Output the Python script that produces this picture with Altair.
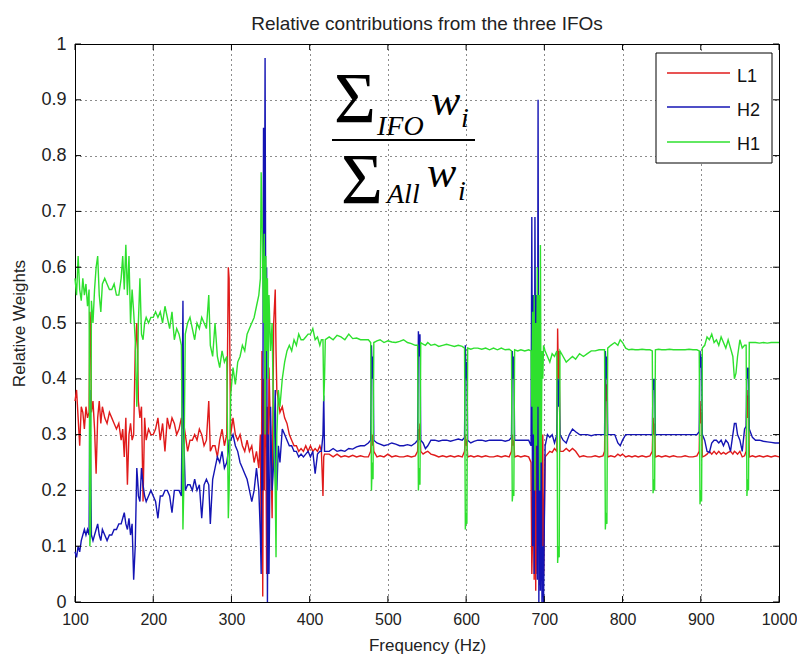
import altair as alt
import pandas as pd

TITLE = "Relative contributions from the three IFOs"
SERIES = ["L1", "H2", "H1"]
COLORS = ["#e01b1b", "#1414b4", "#2ee02e"]
X_TICKS = [100, 200, 300, 400, 500, 600, 700, 800, 900, 1000]
Y_TICKS = [0, 0.1, 0.2, 0.3, 0.4, 0.5, 0.6, 0.7, 0.8, 0.9, 1]

FREQ = [
    100, 102, 104, 106, 108, 110, 112, 114, 116, 118,
    119, 120, 121, 123, 125, 127, 129, 131, 133, 135,
    138, 141, 144, 147, 150, 153, 156, 159, 161, 163,
    165, 167, 169, 171, 173, 175, 177, 179, 180, 181,
    183, 185, 187, 189, 191, 194, 197, 200, 203, 206,
    209, 212, 215, 218, 221, 224, 227, 230, 233, 236,
    238, 239, 241, 244, 247, 250, 253, 256, 259, 262,
    265, 268, 271, 273, 276, 279, 282, 285, 288, 291,
    294, 296, 297, 299, 302, 305, 308, 311, 314, 317,
    320, 323, 326, 329, 332, 335, 337, 338, 339, 340,
    341, 342, 343, 344, 345, 346, 347, 348, 350, 352,
    354, 356, 357, 358, 360, 362, 365, 368, 371, 374,
    377, 380, 383, 386, 389, 392, 395, 398, 401, 404,
    407, 410, 413, 415, 417, 418, 419, 420, 425, 430,
    435, 440, 445, 450, 455, 460, 465, 470, 475, 478,
    479, 480, 481, 482, 486, 490, 495, 500, 505, 510,
    515, 520, 525, 530, 535, 538, 539, 540, 541, 542,
    545, 548, 551, 555, 560, 565, 570, 575, 580, 585,
    590, 595, 598, 599, 600, 601, 602, 606, 610, 615,
    620, 625, 630, 635, 640, 645, 650, 655, 658, 659,
    660, 661, 662, 666, 670, 675, 680, 683, 684, 685,
    686, 687, 688, 689, 690, 691, 692, 693, 694, 695,
    696, 697, 698, 699, 701, 704, 707, 710, 713, 716,
    717, 718, 719, 720, 724, 728, 732, 736, 740, 745,
    750, 755, 760, 765, 770, 775, 777, 778, 779, 780,
    781, 785, 790, 794, 797, 800, 804, 808, 812, 816,
    820, 825, 830, 835, 838, 839, 840, 841, 842, 846,
    850, 855, 860, 865, 870, 875, 880, 885, 890, 895,
    898, 899, 900, 901, 902, 905, 908, 911, 914, 917,
    920, 923, 926, 929, 932, 935, 938, 941, 943, 945,
    947, 950, 953, 956, 958, 959, 960, 961, 962, 966,
    970, 975, 980, 985, 990, 995, 1000,
]

L1 = [
    .36, .38, .33, .28, .35, .34, .31, .35, .33, .34,
    .52, .50, .34, .36, .31, .23, .33, .36, .32, .35,
    .33, .32, .34, .33, .32, .31, .32, .29, .31, .26,
    .33, .21, .30, .32, .29, .30, .45, .50, .45, .36,
    .33, .35, .18, .33, .29, .31, .30, .30, .31, .33,
    .29, .32, .27, .33, .31, .33, .32, .30, .31, .33,
    .31, .32, .30, .27, .29, .29, .30, .29, .31, .30,
    .28, .29, .36, .27, .28, .28, .26, .29, .31, .28,
    .30, .60, .58, .30, .33, .30, .29, .30, .28, .27,
    .29, .27, .28, .25, .27, .24, .30, .10, .45, .01,
    .40, .20, .50, .30, .05, .35, .20, .42, .30, .15,
    .50, .56, .45, .38, .36, .34, .35, .33, .32, .30,
    .29, .28, .28, .27, .275, .27, .28, .27, .28, .27,
    .275, .27, .28, .27, .19, .26, .265, .265, .265, .26,
    .265, .26, .262, .26, .263, .26, .262, .26, .26, .27,
    .30, .28, .30, .27, .26, .262, .26, .265, .26, .262,
    .26, .26, .262, .26, .262, .27, .31, .29, .32, .27,
    .265, .268, .27, .265, .263, .26, .262, .26, .262, .26,
    .262, .26, .27, .30, .28, .29, .26, .262, .26, .262,
    .26, .262, .26, .26, .262, .26, .262, .26, .27, .30,
    .28, .29, .26, .262, .26, .262, .26, .25, .05, .12,
    .32, .04, .36, .02, .40, .05, .22, .38, .03, .40,
    .28, .10, .30, .05, .26, .265, .27, .268, .275, .27,
    .49, .40, .45, .27, .27, .275, .27, .275, .27, .26,
    .262, .26, .26, .262, .26, .262, .27, .40, .36, .39,
    .26, .262, .26, .265, .262, .265, .26, .262, .26, .262,
    .26, .262, .26, .262, .27, .33, .30, .32, .26, .262,
    .26, .262, .26, .262, .26, .26, .262, .26, .26, .262,
    .27, .36, .32, .34, .26, .262, .265, .27, .265, .27,
    .265, .27, .265, .268, .265, .268, .27, .265, .27, .268,
    .265, .27, .26, .262, .27, .38, .33, .37, .26, .262,
    .26, .262, .26, .262, .26, .262, .26,
]

H2 = [
    .09, .08, .10, .09, .11, .12, .13, .12, .13, .12,
    .38, .25, .12, .11, .12, .13, .14, .12, .11, .13,
    .12, .11, .12, .12, .13, .13, .14, .14, .15, .16,
    .14, .13, .15, .12, .14, .04, .10, .24, .22, .19,
    .18, .24, .21, .19, .18, .19, .20, .19, .18, .15,
    .19, .19, .20, .20, .19, .16, .20, .20, .20, .19,
    .54, .30, .20, .21, .21, .20, .22, .20, .21, .15,
    .21, .22, .21, .14, .22, .24, .26, .25, .27, .24,
    .25, .27, .29, .29, .30, .28, .27, .25, .24, .23,
    .22, .20, .18, .20, .24, .20, .12, .05, .30, .20,
    .85, .50, .975, .40, .60, .00, .30, .05, .35, .20,
    .25, .38, .22, .20, .28, .25, .31, .30, .29, .28,
    .28, .27, .27, .26, .265, .26, .265, .27, .26, .27,
    .23, .265, .27, .27, .30, .37, .27, .27, .27, .275,
    .27, .272, .27, .275, .274, .278, .28, .28, .285, .29,
    .46, .40, .44, .29, .285, .283, .28, .282, .285, .283,
    .28, .28, .282, .28, .285, .29, .485, .44, .48, .29,
    .285, .275, .28, .29, .29, .288, .29, .29, .288, .29,
    .292, .29, .295, .46, .40, .43, .29, .285, .288, .29,
    .29, .288, .29, .29, .29, .29, .288, .29, .295, .45,
    .40, .44, .29, .29, .29, .29, .29, .28, .69, .10,
    .55, .05, .69, .30, .55, .04, .90, .00, .45, .02,
    .30, .00, .10, .00, .28, .30, .295, .30, .285, .30,
    .40, .35, .40, .30, .29, .285, .30, .31, .305, .30,
    .30, .30, .298, .30, .30, .30, .30, .45, .40, .44,
    .30, .30, .30, .285, .28, .29, .30, .30, .30, .30,
    .30, .30, .30, .30, .30, .40, .38, .40, .30, .30,
    .30, .30, .30, .30, .30, .30, .30, .30, .30, .30,
    .305, .45, .42, .44, .30, .29, .27, .268, .285, .29,
    .29, .285, .29, .28, .29, .285, .27, .30, .32, .32,
    .30, .29, .27, .31, .315, .42, .40, .42, .31, .295,
    .29, .29, .288, .287, .286, .285, .285,
]

H1 = [
    .58, .55, .62, .56, .54, .58, .55, .57, .53, .56,
    .10, .13, .54, .50, .56, .60, .62, .55, .52, .57,
    .58, .57, .56, .56, .57, .55, .55, .58, .62, .56,
    .64, .55, .62, .50, .56, .52, .47, .35, .40, .50,
    .58, .48, .47, .50, .51, .50, .51, .51, .52, .51,
    .52, .50, .53, .51, .49, .52, .47, .49, .48, .46,
    .13, .20, .48, .50, .51, .49, .47, .50, .49, .51,
    .50, .49, .55, .46, .44, .50, .44, .42, .45, .43,
    .44, .15, .20, .37, .42, .39, .43, .44, .46, .45,
    .48, .49, .50, .51, .53, .55, .58, .77, .70, .60,
    .50, .66, .30, .62, .45, .58, .40, .55, .45, .50,
    .30, .20, .08, .30, .38, .35, .40, .43, .45, .46,
    .45, .47, .46, .48, .47, .47, .475, .48, .48, .49,
    .47, .475, .46, .47, .47, .36, .40, .47, .475, .47,
    .478, .475, .47, .48, .472, .473, .47, .47, .47, .465,
    .20, .25, .22, .465, .468, .47, .465, .468, .466, .465,
    .467, .47, .465, .463, .46, .46, .20, .24, .21, .465,
    .462, .46, .465, .46, .462, .458, .46, .462, .46, .458,
    .46, .458, .455, .13, .16, .14, .455, .453, .455, .455,
    .453, .455, .452, .455, .452, .455, .452, .453, .45, .18,
    .20, .19, .452, .45, .452, .45, .452, .45, .35, .52,
    .30, .55, .20, .50, .28, .60, .35, .55, .20, .64,
    .25, .45, .40, .46, .45, .44, .43, .445, .44, .45,
    .07, .10, .08, .45, .44, .43, .435, .44, .435, .445,
    .44, .445, .45, .45, .452, .452, .452, .13, .16, .14,
    .455, .46, .465, .46, .47, .465, .455, .452, .453, .452,
    .452, .453, .452, .452, .45, .195, .22, .20, .452, .453,
    .452, .452, .453, .452, .452, .452, .452, .453, .452, .452,
    .45, .175, .20, .18, .455, .46, .475, .47, .48, .465,
    .47, .46, .475, .465, .455, .47, .455, .44, .40, .41,
    .44, .47, .455, .46, .46, .19, .22, .20, .465, .465,
    .465, .464, .465, .464, .465, .465, .465,
]

assert len(FREQ) == len(L1) == len(H2) == len(H1)

W, H = 704, 558
FONT = "Liberation Sans"
SERIF = "Liberation Serif"

frames = [pd.DataFrame({"f": FREQ, "v": vals, "s": name})
          for name, vals in zip(SERIES, [L1, H2, H1])]
df = pd.concat(frames, ignore_index=True)

xscale = alt.Scale(domain=[100, 1000], nice=False, zero=False)
yscale = alt.Scale(domain=[0, 1], nice=False, zero=False)
xaxis = alt.Axis(title="Frequency (Hz)", values=X_TICKS, grid=True, ticks=False,
                 domain=False, labelFontSize=16, labelPadding=9, format="d",
                 titleFontSize=17, titlePadding=10, labelFlush=False)
yaxis = alt.Axis(title="Relative Weights", values=Y_TICKS, grid=True, ticks=False,
                 domain=False, labelFontSize=18, labelPadding=9, format="~g",
                 titleFontSize=17, titlePadding=12)

X = alt.X("f:Q", scale=xscale, axis=xaxis)
Y = alt.Y("v:Q", scale=yscale, axis=yaxis)

layers = []
for name, color in zip(SERIES, COLORS):
    layers.append(
        alt.Chart(df).transform_filter(alt.datum.s == name)
        .mark_line(color=color, strokeWidth=1.4)
        .encode(x=X, y=Y)
    )

xt = pd.DataFrame({"f": X_TICKS})
yt = pd.DataFrame({"v": Y_TICKS})
layers.append(alt.Chart(xt).mark_rule(color="black").encode(x=X, y=alt.value(H), y2=alt.value(H - 6)))
layers.append(alt.Chart(xt).mark_rule(color="black").encode(x=X, y=alt.value(0), y2=alt.value(6)))
layers.append(alt.Chart(yt).mark_rule(color="black").encode(y=Y, x=alt.value(0), x2=alt.value(6)))
layers.append(alt.Chart(yt).mark_rule(color="black").encode(y=Y, x=alt.value(W), x2=alt.value(W - 6)))

one = pd.DataFrame({"k": [0]})

# legend box
layers.append(alt.Chart(one).mark_rect(fill="white", stroke="black", strokeWidth=1).encode(
    x=alt.value(581), x2=alt.value(697), y=alt.value(9), y2=alt.value(119)))
LEG_LINE_Y = [29, 63, 98]
LEG_TEXT_Y = [33, 67, 101]
for name, color, ly, ty in zip(SERIES, COLORS, LEG_LINE_Y, LEG_TEXT_Y):
    layers.append(alt.Chart(one).mark_rule(color=color, strokeWidth=1.4).encode(
        x=alt.value(592), x2=alt.value(655), y=alt.value(ly)))
    layers.append(alt.Chart(one).mark_text(text=name, font=FONT, fontSize=18, align="left",
                                           baseline="middle", color="#111").encode(
        x=alt.value(662), y=alt.value(ty)))

# formula annotation
def txt(s, x, y, size, italic=False):
    return alt.Chart(one).mark_text(text=s, font=SERIF, fontSize=size, align="left",
                                    baseline="alphabetic", color="black",
                                    fontStyle="italic" if italic else "normal").encode(
        x=alt.value(x), y=alt.value(y))

layers += [
    txt("\u03a3", 259, 78, 72),
    txt("IFO", 302, 91, 28, True),
    txt("w", 356, 71, 44, True),
    txt("i", 386, 83, 28, True),
    txt("\u03a3", 266, 159, 72),
    txt("All", 312, 159, 28, True),
    txt("w", 352, 143, 44, True),
    txt("i", 383, 156, 28, True),
    alt.Chart(one).mark_rule(color="black", strokeWidth=2).encode(
        x=alt.value(257), x2=alt.value(400), y=alt.value(96)),
]

chart = alt.layer(*layers).properties(
    width=W, height=H,
    title=alt.TitleParams(TITLE, font=FONT, fontSize=19, fontWeight="normal",
                          color="#222", offset=1),
    autosize=alt.AutoSizeParams(type="none"),
    padding={"left": 67, "top": 36, "right": 18, "bottom": 53},
).configure_view(stroke="black", strokeWidth=1).configure_axis(
    gridColor="#000", gridDash=[1, 4], gridOpacity=0.9, gridWidth=1,
    labelFont=FONT, titleFont=FONT, labelColor="#222", titleColor="#222",
    titleFontWeight="normal",
)

chart.save("out.html", embed_options={"renderer": "svg", "actions": False})
